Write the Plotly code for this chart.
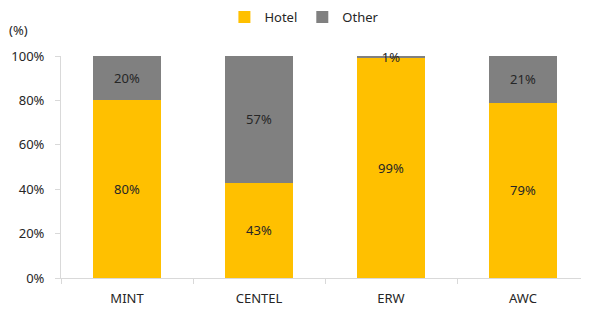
import plotly.graph_objects as go

categories = ["MINT", "CENTEL", "ERW", "AWC"]
hotel = [80, 43, 99, 79]
other = [20, 57, 1, 21]
tick_vals = [0, 20, 40, 60, 80, 100]
tick_text = ["0%", "20%", "40%", "60%", "80%", "100%"]

FONT = "Noto Sans"
TXT = "#262626"

fig = go.Figure()
fig.add_trace(go.Bar(
    x=categories, y=hotel, name="Hotel", marker=dict(color="#FFC000", line=dict(width=0)),
    text=[f"{v}%" for v in hotel], textposition="inside", insidetextanchor="middle",
    constraintext="none", textangle=0, cliponaxis=False,
    textfont=dict(family=FONT, size=13, color=TXT),
))
fig.add_trace(go.Bar(
    x=categories, y=other, name="Other", marker=dict(color="#808080", line=dict(width=0)),
    text=[f"{v}%" for v in other], textposition="inside", insidetextanchor="middle",
    constraintext="none", textangle=0, cliponaxis=False,
    textfont=dict(family=FONT, size=13, color=TXT),
))

# page body has an 8px margin, so the figure is drawn 8px smaller and shifted
fig.update_layout(
    barmode="stack",
    width=581, height=305,
    margin=dict(l=53, r=0, t=48, b=35, autoexpand=False),
    paper_bgcolor="white", plot_bgcolor="white",
    bargap=0.49,
    font=dict(family=FONT, size=13, color=TXT),
    showlegend=True,
    legend=dict(orientation="h", x=0.461, xanchor="center", yref="container", y=0.9705,
                yanchor="middle", font=dict(family=FONT, size=13, color=TXT),
                itemwidth=30, tracegroupgap=0, traceorder="normal"),
    uniformtext=dict(mode=False),
    annotations=[dict(text="(%)", xref="paper", yref="paper", x=-0.081, y=1.115,
                      xanchor="center", yanchor="middle", showarrow=False,
                      font=dict(family=FONT, size=13, color=TXT))],
)
fig.update_xaxes(
    showline=True, linecolor="#D9D9D9", linewidth=1,
    ticks="outside", tickson="boundaries", ticklen=5, tickcolor="#D9D9D9",
    ticklabelstandoff=8,
    showgrid=False, tickfont=dict(family=FONT, size=13, color=TXT),
)
fig.update_yaxes(
    range=[0, 100], tickvals=tick_vals, ticktext=tick_text,
    showline=True, linecolor="#D9D9D9", linewidth=1,
    ticks="outside", ticklen=5, tickcolor="#D9D9D9",
    ticklabelstandoff=8,
    showgrid=False, zeroline=False, tickfont=dict(family=FONT, size=13, color=TXT),
)

fig.write_html("out.html")
